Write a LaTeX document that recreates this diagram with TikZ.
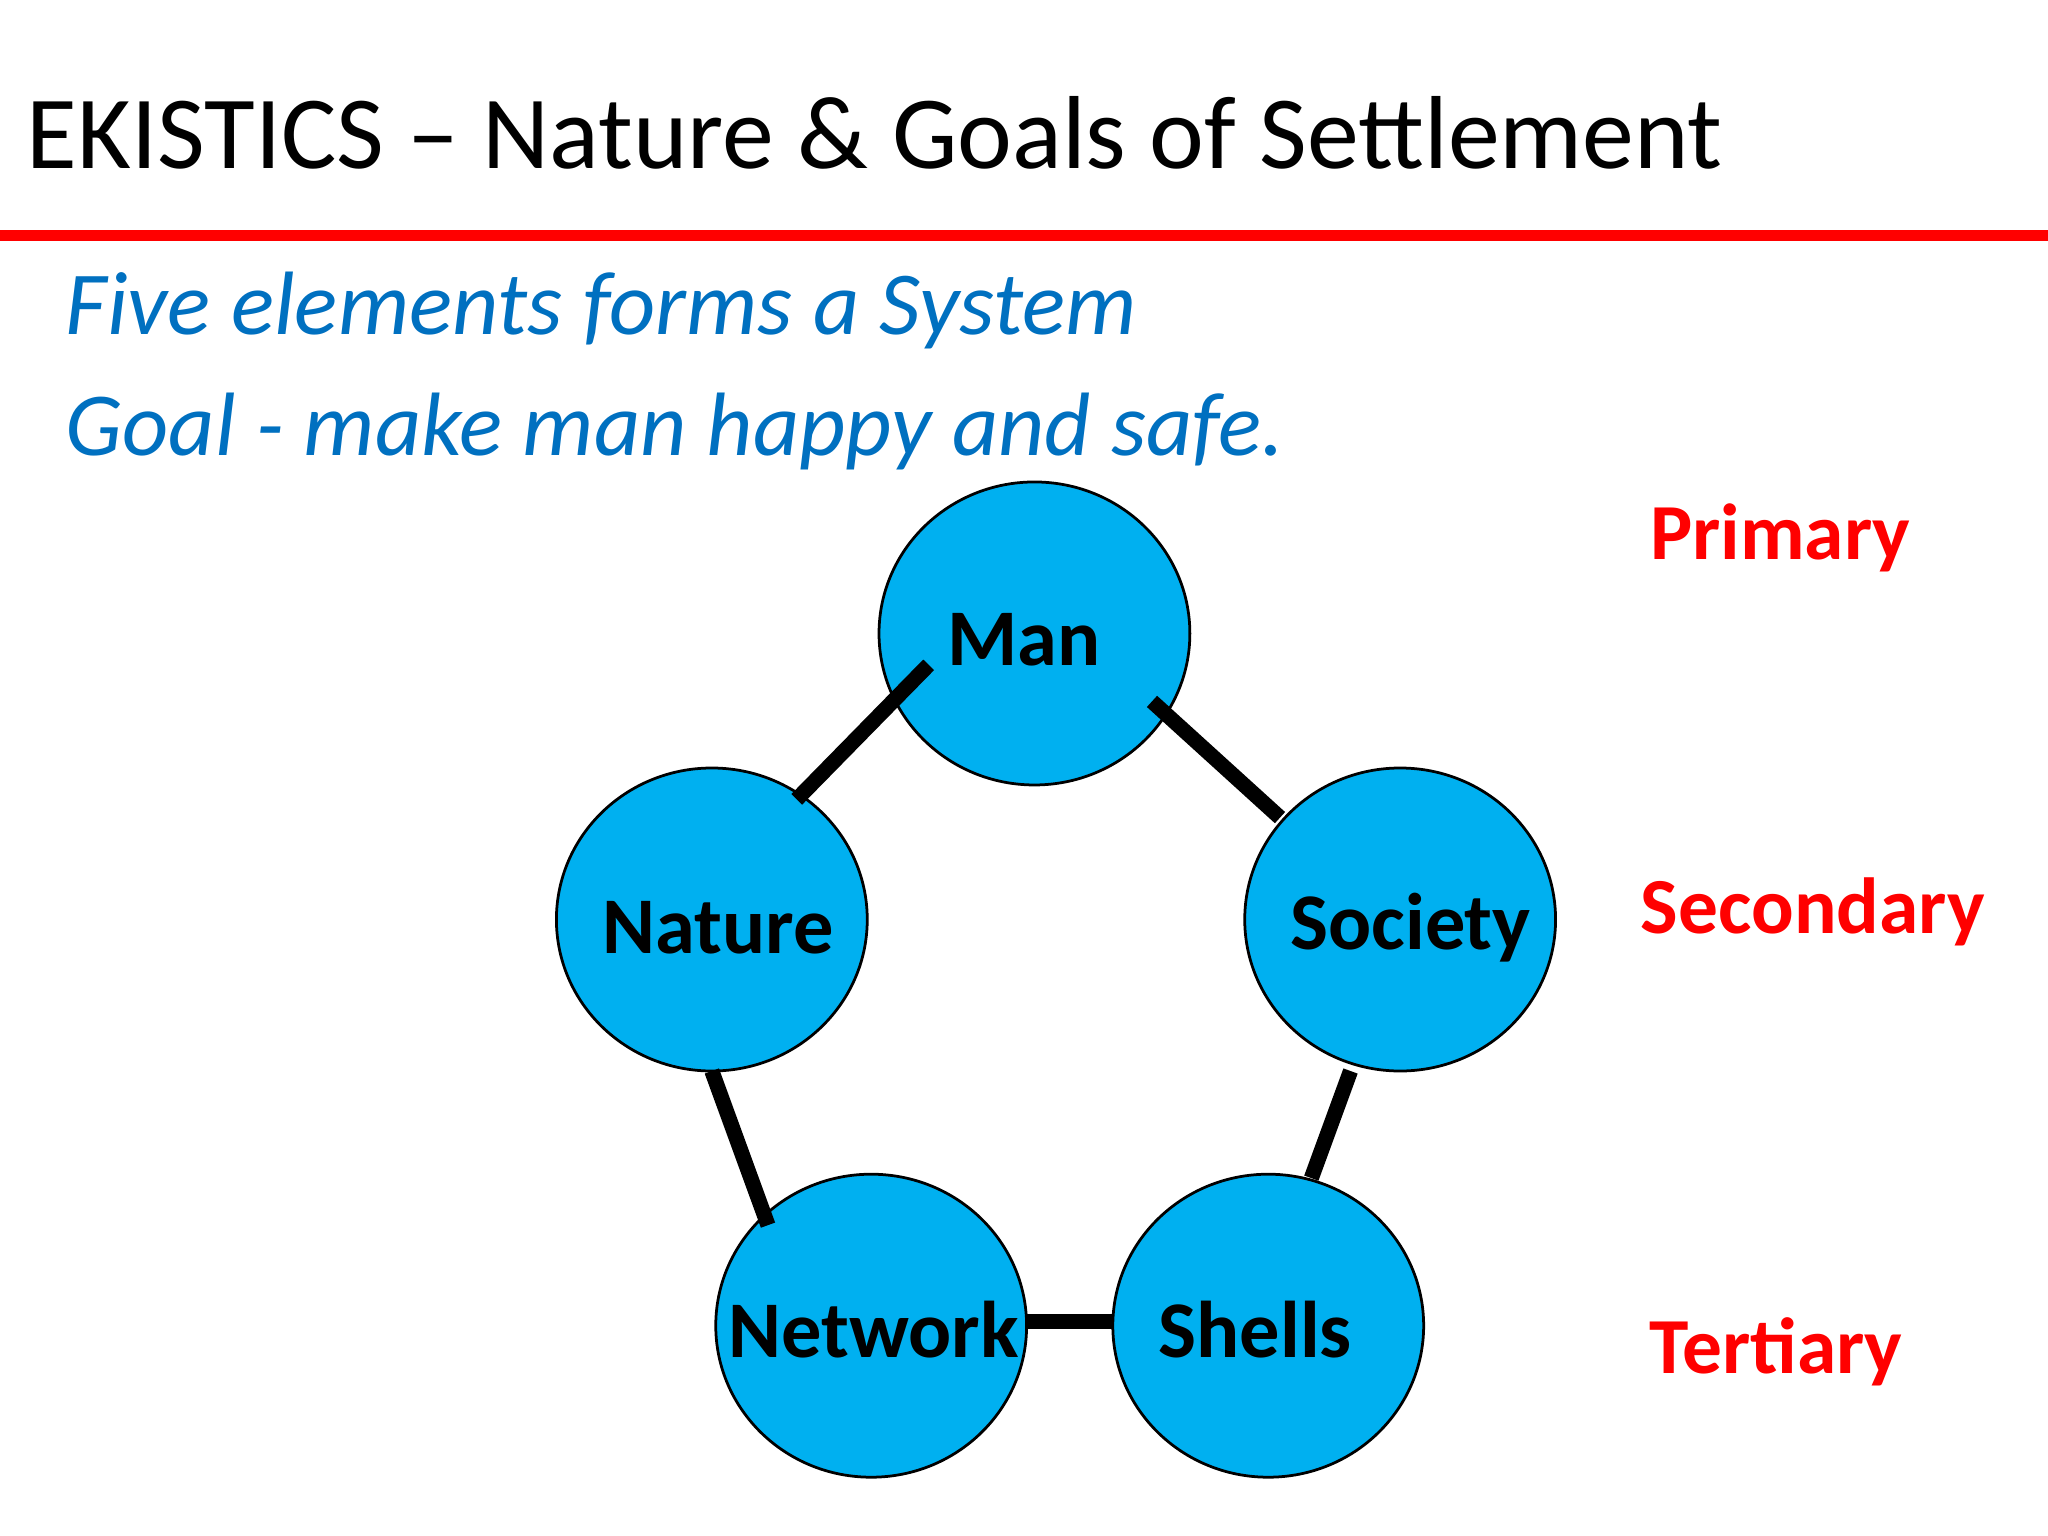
\documentclass[tikz,border=0pt]{standalone}
\usepackage{fontspec}
\setmainfont{Carlito}
\begin{document}
\begin{tikzpicture}[x=0.01cm,y=-0.01cm,
  lbl/.style={font=\bfseries\fontsize{17.5pt}{21pt}\selectfont},
  lvl/.style={font=\bfseries\fontsize{17.3pt}{21pt}\selectfont,text=red},
  link/.style={line width=3.3pt}]
\definecolor{blu}{RGB}{0,176,240}
\definecolor{tblue}{RGB}{0,112,192}
\useasboundingbox (0,0) rectangle (1568,1176);
\fill[white] (0,0) rectangle (1568,1176);
\node[anchor=west,font=\fontsize{22.6pt}{26pt}\selectfont] (title) at (8,102) {EKISTICS – Nature \& Goals of Settlement};
\draw[red,line width=2.4pt] (0,180) -- (1568,180);
\node[anchor=west,text=tblue,font=\itshape\fontsize{19.6pt}{24pt}\selectfont] (t1) at (38,238) {Five elements forms a System};
\node[anchor=west,text=tblue,font=\itshape\fontsize{19.6pt}{24pt}\selectfont] (t2) at (38,330) {Goal - make man happy and safe.};
\foreach \n/\x/\y in {man/792/485,nature/545/704,society/1072/704,network/667/1015,shells/971/1015}
  \draw[line width=0.6pt,fill=blu] (\x,\y) ellipse [x radius=119,y radius=116];
\node[lbl] (man) at (784,490) {Man};
\node[lbl] (nature) at (550,710) {Nature};
\node[lbl] (society) at (1080,710) {Society};
\node[lbl] (network) at (669,1018) {Network};
\node[lbl] (shells) at (961,1018) {Shells};
\coordinate (a1) at (711,509); \coordinate (a2) at (610,612);
\coordinate (b1) at (882,537); \coordinate (b2) at (980,626);
\coordinate (c1) at (545,820); \coordinate (c2) at (588,938);
\coordinate (d1) at (1034,820); \coordinate (d2) at (1004,902);
\coordinate (e1) at (786,1012); \coordinate (e2) at (852,1012);
\draw[link] (a1)--(a2); \draw[link] (b1)--(b2); \draw[link] (c1)--(c2);
\draw[link] (d1)--(d2); \draw[link] (e1)--(e2);
\node[lvl] (p) at (1363,412) {Primary};
\node[lvl] (s) at (1388,698) {Secondary};
\node[lvl] (t) at (1360,1035) {Tertiary};
\end{tikzpicture}
\end{document}
